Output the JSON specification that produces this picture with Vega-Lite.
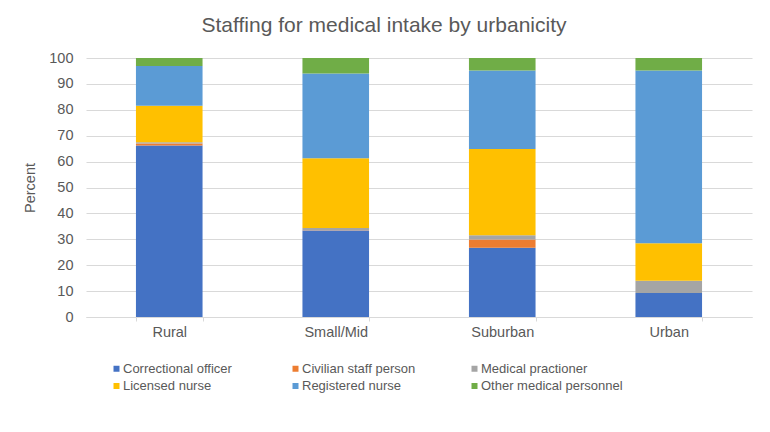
{
  "$schema": "https://vega.github.io/schema/vega-lite/v6.json",
  "width": 666,
  "height": 259,
  "autosize": {"type": "none"},
  "padding": {"left": 86, "top": 58, "right": 18, "bottom": 115},
  "background": "white",
  "title": {
    "text": "Staffing for medical intake by urbanicity",
    "anchor": "middle",
    "frame": "group",
    "dx": -35,
    "offset": 14,
    "font": "Liberation Sans",
    "fontSize": 21,
    "fontWeight": "normal",
    "color": "#595959"
  },
  "data": {
    "values": [
      {"urbanicity": "Rural", "staff": "Correctional officer", "percent": 66.2},
      {"urbanicity": "Rural", "staff": "Civilian staff person", "percent": 0.8},
      {"urbanicity": "Rural", "staff": "Medical practioner", "percent": 0.5},
      {"urbanicity": "Rural", "staff": "Licensed nurse", "percent": 14.1},
      {"urbanicity": "Rural", "staff": "Registered nurse", "percent": 15.3},
      {"urbanicity": "Rural", "staff": "Other medical personnel", "percent": 3.1},
      {"urbanicity": "Small/Mid", "staff": "Correctional officer", "percent": 33.4},
      {"urbanicity": "Small/Mid", "staff": "Civilian staff person", "percent": 0.1},
      {"urbanicity": "Small/Mid", "staff": "Medical practioner", "percent": 0.9},
      {"urbanicity": "Small/Mid", "staff": "Licensed nurse", "percent": 26.9},
      {"urbanicity": "Small/Mid", "staff": "Registered nurse", "percent": 32.7},
      {"urbanicity": "Small/Mid", "staff": "Other medical personnel", "percent": 6.0},
      {"urbanicity": "Suburban", "staff": "Correctional officer", "percent": 26.7},
      {"urbanicity": "Suburban", "staff": "Civilian staff person", "percent": 3.2},
      {"urbanicity": "Suburban", "staff": "Medical practioner", "percent": 1.7},
      {"urbanicity": "Suburban", "staff": "Licensed nurse", "percent": 33.3},
      {"urbanicity": "Suburban", "staff": "Registered nurse", "percent": 30.3},
      {"urbanicity": "Suburban", "staff": "Other medical personnel", "percent": 4.8},
      {"urbanicity": "Urban", "staff": "Correctional officer", "percent": 9.3},
      {"urbanicity": "Urban", "staff": "Civilian staff person", "percent": 0.0},
      {"urbanicity": "Urban", "staff": "Medical practioner", "percent": 4.7},
      {"urbanicity": "Urban", "staff": "Licensed nurse", "percent": 14.5},
      {"urbanicity": "Urban", "staff": "Registered nurse", "percent": 66.7},
      {"urbanicity": "Urban", "staff": "Other medical personnel", "percent": 4.8}
    ]
  },
  "transform": [
    {"calculate": "indexof(['Correctional officer', 'Civilian staff person', 'Medical practioner', 'Licensed nurse', 'Registered nurse', 'Other medical personnel'], datum.staff)", "as": "stackOrder"}
  ],
  "mark": {"type": "bar"},
  "encoding": {
    "x": {
      "field": "urbanicity",
      "type": "nominal",
      "sort": ["Rural", "Small/Mid", "Suburban", "Urban"],
      "scale": {"paddingInner": 0.6, "paddingOuter": 0.3},
      "axis": {
        "title": null,
        "labelAngle": 0,
        "labelFont": "Liberation Sans",
        "labelFontSize": 14.5,
        "labelColor": "#595959",
        "labelPadding": 4,
        "domainColor": "#d9d9d9",
        "ticks": true,
        "tickBand": "extent",
        "tickSize": 4,
        "tickColor": "#d9d9d9"
      }
    },
    "y": {
      "field": "percent",
      "type": "quantitative",
      "stack": "zero",
      "scale": {"domain": [0, 100], "nice": false},
      "axis": {
        "title": "Percent",
        "titleFont": "Liberation Sans",
        "titleFontSize": 14.5,
        "titleFontWeight": "normal",
        "titleColor": "#595959",
        "titlePadding": 11,
        "values": [0, 10, 20, 30, 40, 50, 60, 70, 80, 90, 100],
        "labelFont": "Liberation Sans",
        "labelFontSize": 14.5,
        "labelColor": "#595959",
        "labelPadding": 13,
        "ticks": false,
        "domain": false,
        "gridColor": "#d9d9d9",
        "gridWidth": 1
      }
    },
    "order": {"field": "stackOrder", "type": "quantitative", "sort": "ascending"},
    "color": {
      "field": "staff",
      "type": "nominal",
      "sort": ["Correctional officer", "Civilian staff person", "Medical practioner", "Licensed nurse", "Registered nurse", "Other medical personnel"],
      "scale": {
        "domain": ["Correctional officer", "Civilian staff person", "Medical practioner", "Licensed nurse", "Registered nurse", "Other medical personnel"],
        "range": ["#4472C4", "#ED7D31", "#A5A5A5", "#FFC000", "#5B9BD5", "#70AD47"]
      },
      "legend": {
        "title": null,
        "orient": "none",
        "direction": "horizontal",
        "legendX": 24,
        "legendY": 304,
        "columns": 3,
        "gridAlign": "all",
        "columnPadding": 24,
        "rowPadding": 3.5,
        "symbolType": "square",
        "symbolSize": 36,
        "symbolStrokeWidth": 0,
        "labelOffset": 0,
        "labelFont": "Liberation Sans",
        "labelFontSize": 13,
        "labelColor": "#595959",
        "labelLimit": 300
      }
    }
  },
  "config": {
    "view": {"stroke": null}
  }
}
